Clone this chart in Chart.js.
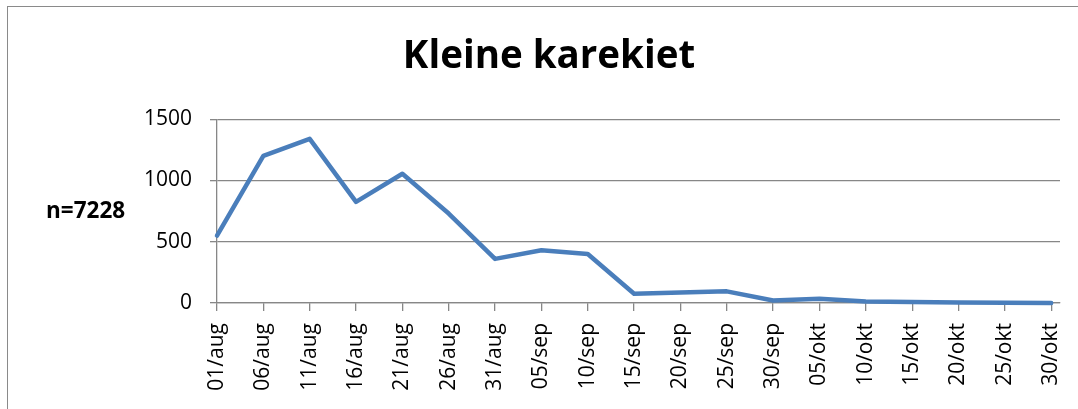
<!DOCTYPE html>
<html>
<head>
<meta charset="utf-8">
<script src="https://cdn.jsdelivr.net/npm/chart.js@4/dist/chart.umd.min.js"></script>
<style>
  html, body { margin: 0; padding: 0; background: #fff; overflow: hidden; }
  #frame {
    position: absolute; left: 7px; top: 6px; width: 1200px; height: 500px;
    border-left: 1.5px solid #8a8a8a; border-top: 1.5px solid #8a8a8a;
  }
  #wrap { position: absolute; left: 0; top: 0; width: 1078px; height: 409px; }
</style>
</head>
<body>
<div id="frame"></div>
<div id="wrap"><canvas id="chart"></canvas></div>
<script>
// Kleine karekiet - counts per 5-day period
const dateLabels = ['01/aug', '06/aug', '11/aug', '16/aug', '21/aug', '26/aug', '31/aug',
    '05/sep', '10/sep', '15/sep', '20/sep', '25/sep', '30/sep',
    '05/okt', '10/okt', '15/okt', '20/okt', '25/okt', '30/okt'];
const counts = [550, 1200, 1340, 825, 1055, 730, 360, 430, 400, 75, 85, 95, 20, 35, 12, 8, 5, 3, 0];
const yTicks = [0, 500, 1000, 1500];
const sideText = 'n=7228';
const titleText = 'Kleine karekiet';

const FONT = "'Open Sans', 'Liberation Sans', sans-serif";
const GRID = '#878787';

// side label left of the y axis
const sideLabel = {
    id: 'sideLabel',
    afterDraw(chart) {
        const ctx = chart.ctx;
        ctx.save();
        ctx.font = 'bold 22.5px ' + FONT;
        ctx.fillStyle = '#000';
        ctx.textAlign = 'left';
        ctx.textBaseline = 'middle';
        ctx.fillText(sideText, 46, 212);
        ctx.restore();
    }
};

const points = counts.map((v, i) => ({ x: i, y: v }));

const ctx = document.getElementById('chart').getContext('2d');
new Chart(ctx, {
    type: 'line',
    data: {
        datasets: [{
            data: points,
            borderColor: '#4A7EBB',
            borderWidth: 4.5,
            borderCapStyle: 'round',
            borderJoinStyle: 'round',
            pointRadius: 0,
            tension: 0,
            fill: false,
            clip: false
        }]
    },
    options: {
        responsive: true,
        maintainAspectRatio: false,
        animation: false,
        layout: { padding: { left: 38, right: 18, top: 0, bottom: 0 } },
        plugins: {
            legend: { display: false },
            tooltip: { enabled: false },
            title: {
                display: true,
                text: titleText,
                color: '#000',
                font: { family: FONT, size: 38.5, weight: 'bold' },
                padding: { top: 34, bottom: 39 }
            }
        },
        scales: {
            x: {
                type: 'linear',
                min: 0,
                max: 18.19,
                afterFit(scale) {
                    scale.height = 106;
                    scale.paddingLeft = 0;
                    scale.paddingRight = 0;
                },
                afterBuildTicks(scale) {
                    scale.ticks = dateLabels.map((_, i) => ({ value: i }));
                },
                grid: {
                    drawOnChartArea: false,
                    drawTicks: true,
                    tickLength: 8,
                    color: GRID,
                    lineWidth: 1.3
                },
                border: { color: GRID, width: 1.3 },
                ticks: {
                    autoSkip: false,
                    minRotation: 90,
                    maxRotation: 90,
                    padding: 12,
                    color: '#000',
                    font: { family: FONT, size: 21 },
                    callback: v => dateLabels[v]
                }
            },
            y: {
                min: 0,
                max: 1500,
                afterFit(scale) {
                    scale.width = 179;
                    scale.paddingTop = 0;
                    scale.paddingBottom = 0;
                },
                afterBuildTicks(scale) {
                    scale.ticks = yTicks.map(v => ({ value: v }));
                },
                grid: {
                    color: GRID,
                    lineWidth: 1.3,
                    drawTicks: true,
                    tickLength: 7
                },
                border: { color: GRID, width: 1.3 },
                ticks: {
                    padding: 18,
                    color: '#000',
                    font: { family: FONT, size: 21 },
                    callback: v => String(v)
                }
            }
        }
    },
    plugins: [sideLabel]
});
</script>
</body>
</html>
